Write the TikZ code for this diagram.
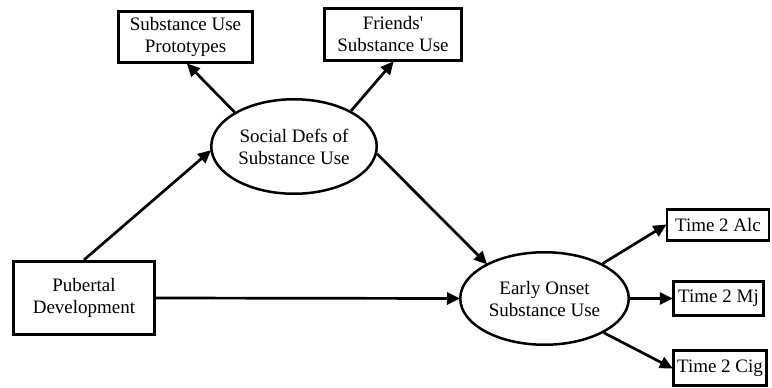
\documentclass[tikz,border=0pt]{standalone}
\usepackage{fontspec}
\setmainfont{Liberation Serif}[Ligatures=TeXOff]
\usetikzlibrary{shapes.geometric,arrows.meta}
\begin{document}
\begin{tikzpicture}[x=1pt,y=-1pt,
  every node/.style={font=\fontsize{19}{22}\selectfont, align=center, inner sep=0pt},
  obsbox/.style={draw, rectangle, line width=2.7pt},
  latent/.style={draw, ellipse, line width=2.5pt},
  path/.style={line width=2.7pt, -{Triangle[length=13pt,width=12pt]}, shorten >=-1pt}
]
\useasboundingbox (0,0) rectangle (772,388);
\node[obsbox, minimum width=134.5pt, minimum height=51.5pt] (proto) at (185.5,37) {Substance Use\\Prototypes};
\node[obsbox, minimum width=137.5pt, minimum height=52.5pt] (friends) at (393,34.5) {Friends'\\Substance Use};
\node[latent, minimum width=165.5pt, minimum height=94.5pt] (soc) at (294,146.5) {Social Defs of\\Substance Use};
\node[obsbox, minimum width=141.5pt, minimum height=73.5pt] (pub) at (84,298) {Pubertal\\Development};
\node[latent, minimum width=168.5pt, minimum height=92.5pt] (early) at (544.5,298.5) {Early Onset\\Substance Use};
\node[obsbox, minimum width=102pt, minimum height=31.5pt] (alc) at (718,225) {Time 2 Alc};
\node[obsbox, minimum width=90.5pt, minimum height=34.5pt] (mj) at (718.5,298.5) {Time 2 Mj};
\node[obsbox, minimum width=93.5pt, minimum height=35.5pt] (cig) at (720,368) {Time 2 Cig};

\draw[path] (soc.150) -- ([xshift=2pt]proto.south);
\draw[path] (soc.32) -- (friends.south);
\draw[path] (pub.north) -- (soc.183);
\draw[path] (soc.-5) -- (early.149);
\draw[path] (pub.east) -- (early.west);
\draw[path] (early.31) -- (alc.west);
\draw[path] (early.east) -- (mj.west);
\draw[path] (early.-30) -- (cig.west);
\end{tikzpicture}
\end{document}
